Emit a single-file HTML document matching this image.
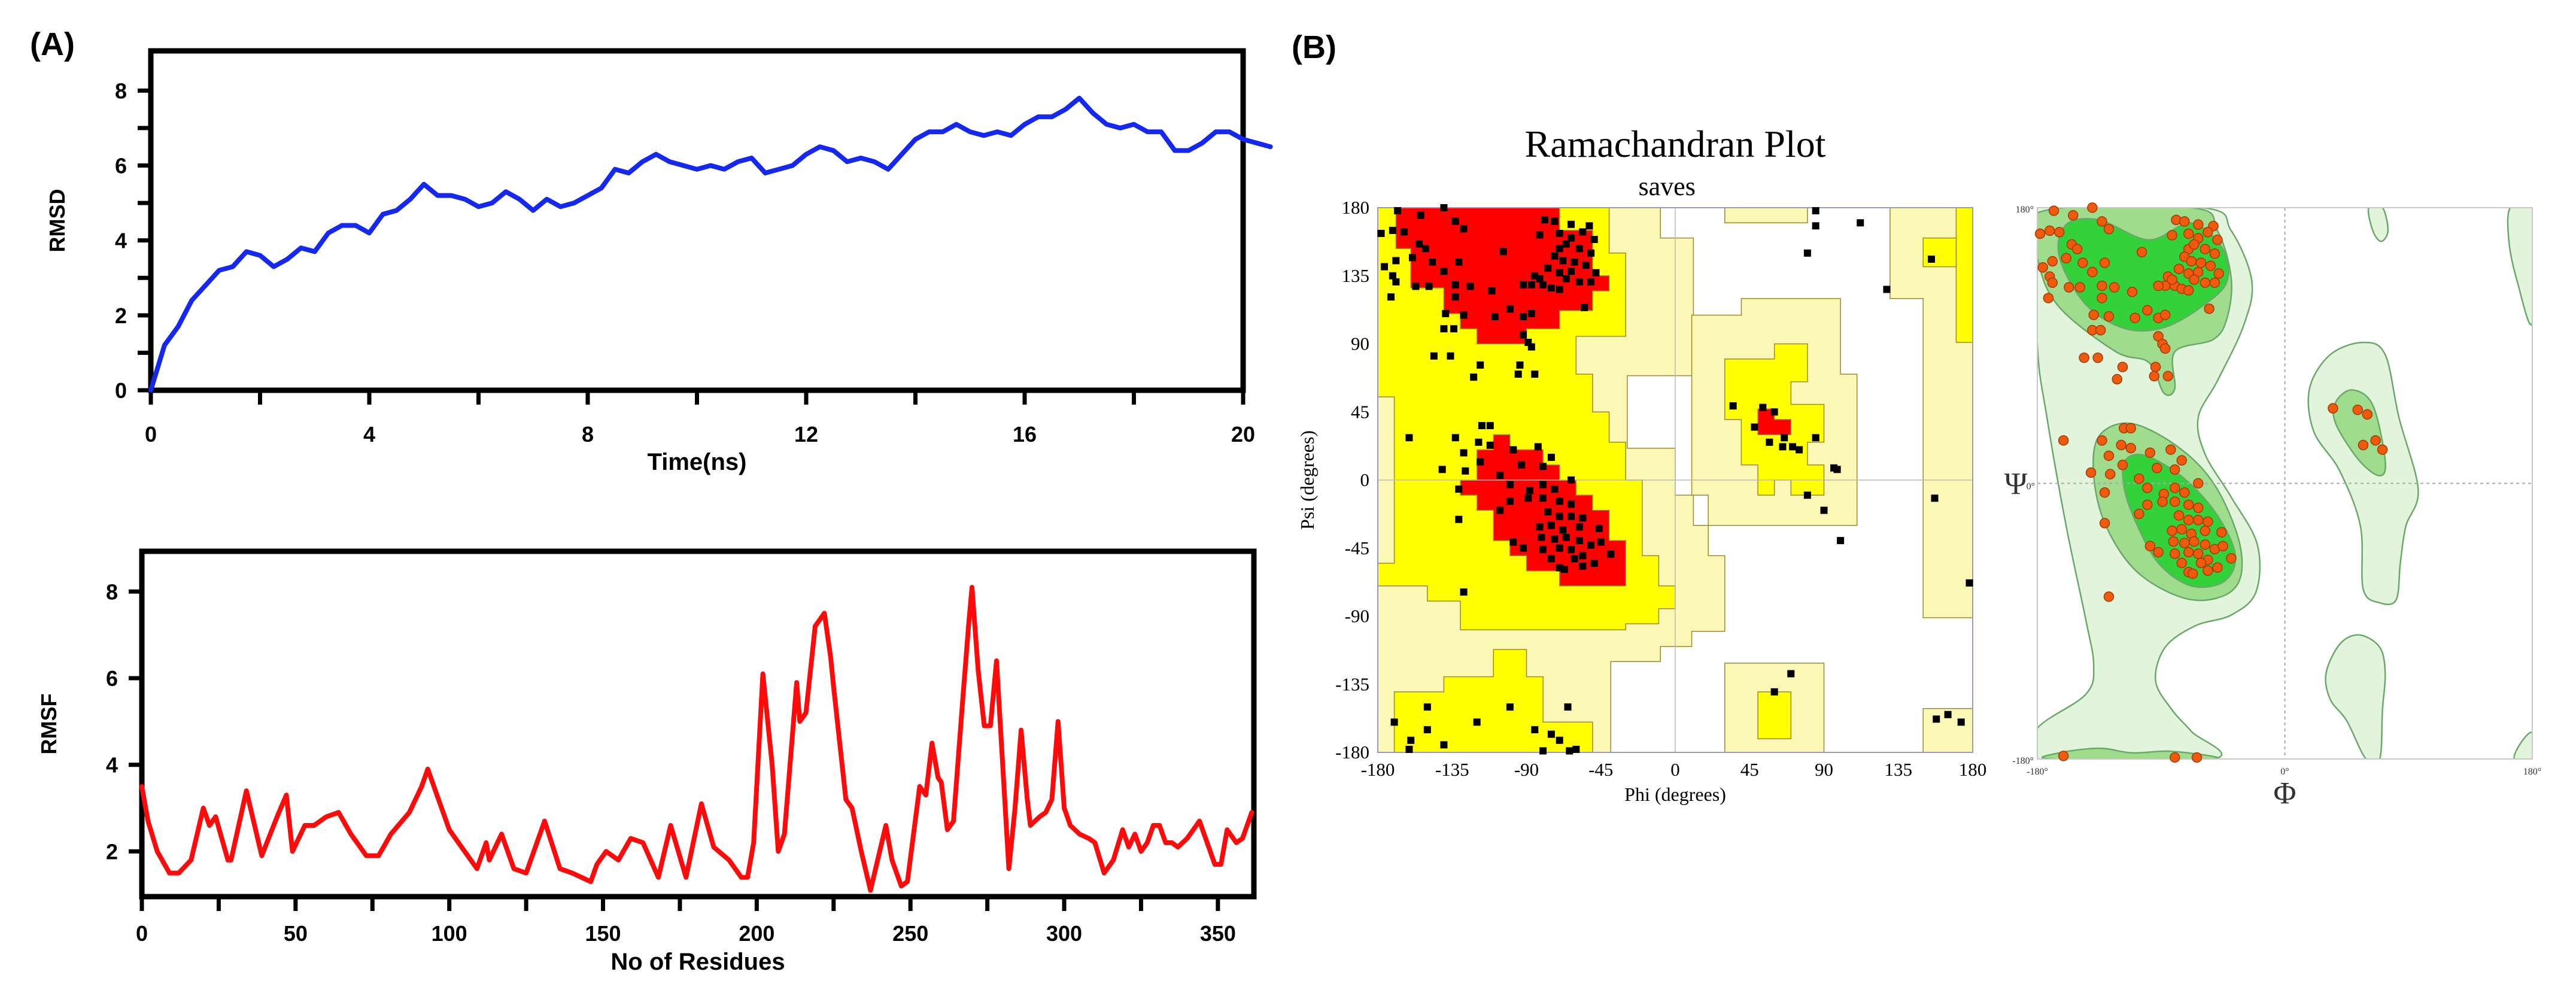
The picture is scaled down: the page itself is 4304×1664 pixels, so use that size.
<!DOCTYPE html>
<html><head><meta charset="utf-8">
<style>
html,body{margin:0;padding:0;background:#fff;}
svg{display:block;}
.sans{font-family:"Liberation Sans",Arial,sans-serif;font-weight:bold;}
.serif{font-family:"Liberation Serif","Times New Roman",serif;}
</style></head>
<body>
<svg id="fig" width="4304" height="1664" viewBox="0 0 4304 1664" xmlns="http://www.w3.org/2000/svg">
<rect x="0" y="0" width="4304" height="1664" fill="#ffffff"/>
<text x="50" y="92" class="sans" font-size="54">(A)</text>
<text x="2158" y="97" class="sans" font-size="54">(B)</text>
<g id="rmsd"></g>
<g id="rmsf"></g>
<g id="rama1"></g>
<g id="rama2"></g>
</svg>
<script>
// ---------- RMSD data ----------
const rmsdTimeStep = 0.25;
const rmsdValues = [0,1.2,1.7,2.4,2.8,3.2,3.3,3.7,3.6,3.3,3.5,3.8,3.7,4.2,4.4,4.4,4.2,4.7,4.8,5.1,5.5,5.2,5.2,5.1,4.9,5.0,5.3,5.1,4.8,5.1,4.9,5.0,5.2,5.4,5.9,5.8,6.1,6.3,6.1,6.0,5.9,6.0,5.9,6.1,6.2,5.8,5.9,6.0,6.3,6.5,6.4,6.1,6.2,6.1,5.9,6.3,6.7,6.9,6.9,7.1,6.9,6.8,6.9,6.8,7.1,7.3,7.3,7.5,7.8,7.4,7.1,7.0,7.1,6.9,6.9,6.4,6.4,6.6,6.9,6.9,6.7,6.6,6.5];
const rmsdXTicks = [0,4,8,12,16,20];
const rmsdYTicks = [0,2,4,6,8];
// ---------- RMSF data ----------
const rmsfResidues = [0,2,5,9,12,16,20,22,24,28,29,34,39,44,47,49,53,56,60,64,68,73,77,81,87,91,93,96,100,104,109,112,113,117,121,125,131,136,140,146,148,151,155,159,163,168,172,177,182,186,191,195,197,199,202,205,207,209,213,214,216,219,222,224,225,229,231,234,237,240,242,244,247,249,253,255,257,259,260,262,264,267,269,270,272,274,276,278,280,282,284,286,288,289,292,294,296,298,300,302,305,308,310,313,316,319,321,323,325,327,329,331,333,335,337,340,344,346,349,351,353,356,358,361];
const rmsfValues = [3.5,2.7,2.0,1.5,1.5,1.8,3.0,2.6,2.8,1.8,1.8,3.4,1.9,2.8,3.3,2.0,2.6,2.6,2.8,2.9,2.4,1.9,1.9,2.4,2.9,3.5,3.9,3.3,2.5,2.1,1.6,2.2,1.8,2.4,1.6,1.5,2.7,1.6,1.5,1.3,1.7,2.0,1.8,2.3,2.2,1.4,2.6,1.4,3.1,2.1,1.8,1.4,1.4,2.2,6.1,4.0,2.0,2.4,5.9,5.0,5.2,7.2,7.5,6.5,5.8,3.2,3.0,2.0,1.1,2.0,2.6,1.8,1.2,1.3,3.5,3.3,4.5,3.7,3.6,2.5,2.7,5.5,7.3,8.1,6.2,4.9,4.9,6.4,4.0,1.6,3.0,4.8,3.2,2.6,2.8,2.9,3.2,5.0,3.0,2.6,2.4,2.3,2.2,1.5,1.8,2.5,2.1,2.4,2.0,2.2,2.6,2.6,2.2,2.2,2.1,2.3,2.7,2.3,1.7,1.7,2.5,2.2,2.3,2.9];
const rmsfXTicks = [0,50,100,150,200,250,300,350];
const rmsfYTicks = [2,4,6,8];
// ---------- Ramachandran residues (phi, psi) ----------
const residuePhiPsi = [[-168,178],[-140,180],[-154,175],[-133,171],[-128,166],[-178,163],[-171,165],[-164,164],[-155,156],[-151,153],[-159,147],[-169,145],[-176,141],[-147,144],[-140,138],[-171,135],[-169,131],[-172,121],[-157,128],[-149,128],[-133,129],[-124,128],[-131,144],[-111,125],[-104,151],[-133,121],[-128,109],[-139,110],[-140,100],[-134,100],[-109,108],[-100,113],[-92,108],[-87,110],[-92,96],[-89,91],[-87,88],[-146,82],[-136,82],[-118,76],[-122,68],[-94,76],[-95,70],[-85,70],[-79,172],[-73,171],[-63,169],[-52,168],[-82,162],[-70,163],[-63,160],[-56,164],[-49,159],[-70,153],[-66,156],[-58,153],[-51,150],[-73,148],[-68,145],[-61,144],[-54,142],[-77,140],[-85,135],[-70,137],[-63,138],[-48,137],[-80,129],[-87,129],[-92,129],[-75,127],[-70,126],[-58,131],[-51,131],[-55,114],[-82,133],[-66,133],
[-117,36],[-112,36],[-133,28],[-119,25],[-112,23],[-128,18],[-118,12],[-98,20],[-83,22],[-75,15],[-141,7],[-127,6],[-106,3],[-93,10],[-80,9],[-63,0],[-131,-6],[-100,-3],[-88,-7],[-80,-3],[-73,-6],[-106,-20],[-100,-14],[-89,-12],[-80,-12],[-70,-14],[-63,-16],[-131,-26],[-77,-21],[-70,-24],[-63,-24],[-56,-25],[-82,-31],[-75,-30],[-68,-33],[-58,-31],[-46,-32],[-98,-41],[-92,-45],[-81,-38],[-73,-39],[-66,-38],[-58,-40],[-51,-43],[-45,-41],[-80,-46],[-70,-45],[-63,-46],[-56,-50],[-39,-49],[-75,-52],[-61,-52],[-49,-55],[-70,-58],[-56,-57],[-67,-59],
[-161,28],[-128,-74],[-161,-178],[-80,-179],[-64,-179],[35,49],[53,48],[60,45],[57,25],[66,28],[71,22]];
const procheckExtraPhiPsi = [[112,170],[85,168],[80,150],[85,178],[128,126],[155,146],[157,-12],[100,-40],[178,-68],[60,-140],[70,-128],[158,-158],[165,-155],[173,-160],[98,7],[96,8],[90,-20],[80,-10],[48,35],[65,22],[75,20],[85,28],[-170,-160],[-150,-165],[-120,-160],[-100,-150],[-85,-165],[-75,-168],[-60,-178],[-160,-172],[-140,-175],[-65,-150],[-70,-172],[-150,-150]];
const procheckTicks = [-180,-135,-90,-45,0,45,90,135,180];
// PROCHECK regions (phi, psi vertices)
const regionGenerous = [[[-180,180],[-9,180],[-9,160],[11,160],[11,69],[-29,69],[-29,21],[0,21],[0,-10],[11,-10],[11,-30],[20,-30],[20,-50],[30,-50],[30,-100],[10,-100],[10,-110],[-9,-110],[-9,-120],[-39,-120],[-39,-180],[-180,-180]],
 [[10,109],[40,109],[40,120],[100,120],[100,70],[110,70],[110,-30],[20,-30],[20,-10],[10,-10]],
 [[30,180],[80,180],[80,170],[30,170]],
 [[130,180],[180,180],[180,-91],[150,-91],[150,120],[130,120]],
 [[150,-151],[180,-151],[180,-180],[150,-180]],
 [[30,-121],[90,-121],[90,-180],[30,-180]]];
const regionAllowed = [[[-180,180],[-40,180],[-40,150],[-30,150],[-30,95],[-60,95],[-60,70],[-50,70],[-50,45],[-40,45],[-40,25],[-30,25],[-30,0],[-20,0],[-20,-50],[-10,-50],[-10,-70],[0,-70],[0,-85],[-10,-85],[-10,-95],[-30,-95],[-30,-99],[-130,-99],[-130,-80],[-150,-80],[-150,-70],[-180,-70],[-180,-55],[-170,-55],[-170,55],[-180,55]],
 [[-170,-180],[-170,-140],[-140,-140],[-140,-130],[-110,-130],[-110,-112],[-90,-112],[-90,-130],[-80,-130],[-80,-160],[-50,-160],[-50,-180]],
 [[30,80],[60,80],[60,90],[80,90],[80,65],[70,65],[70,50],[90,50],[90,25],[80,25],[80,10],[90,10],[90,-10],[70,-10],[70,0],[60,0],[60,-10],[50,-10],[50,10],[40,10],[40,40],[30,40]],
 [[170,180],[180,180],[180,91],[170,91]],
 [[150,160],[170,160],[170,141],[150,141]],
 [[50,-140],[70,-140],[70,-171],[50,-171]]];
const regionCore = [[[-169,180],[-70,180],[-70,165],[-50,165],[-50,135],[-40,135],[-40,125],[-50,125],[-50,112],[-70,112],[-70,100],[-90,100],[-90,90],[-120,90],[-120,100],[-130,100],[-130,110],[-140,110],[-140,127],[-160,127],[-160,153],[-169,153]],
 [[-110,30],[-100,30],[-100,20],[-80,20],[-80,10],[-70,10],[-70,0],[-60,0],[-60,-10],[-50,-10],[-50,-20],[-40,-20],[-40,-40],[-30,-40],[-30,-70],[-70,-70],[-70,-60],[-90,-60],[-90,-50],[-100,-50],[-100,-40],[-110,-40],[-110,-20],[-120,-20],[-120,-10],[-130,-10],[-130,0],[-120,0],[-120,20],[-110,20]],
 [[50,47],[60,47],[60,40],[70,40],[70,30],[50,30]]];
// contour plot regions
const contourOuter = [[[-180,180],[-60,180],[-39,165],[-24,132],[-30,103],[-49,67],[-63,43],[-58,19],[-39,-9],[-20,-40],[-21,-71],[-39,-86],[-65,-93],[-87,-107],[-94,-129],[-82,-148],[-68,-162],[-52,-180],[-180,-180],[-180,-160],[-145,-138],[-139,-119],[-145,-88],[-159,-28],[-173,43],[-180,91]],
 [[18,62],[33,84],[57,92],[73,84],[83,43],[97,-4],[88,-28],[84,-52],[81,-76],[69,-78],[57,-69],[55,-28],[40,8],[21,34]],
 [[30,-124],[40,-105],[54,-99],[69,-107],[73,-124],[71,-148],[69,-180],[59,-180],[45,-155],[33,-141]],
 [[61,180],[71,180],[75,165],[70,158],[64,165]],
 [[164,180],[180,180],[180,105],[169,132],[163,158]],
 [[167,-180],[172,-169],[180,-163],[180,-180]]];
const contourMid = [[[-179,177],[-68,180],[-49,165],[-39,134],[-42,108],[-52,94],[-80,86],[-80,62],[-88,59],[-99,79],[-123,86],[-164,115],[-179,144]],
 [[-135,31],[-111,39],[-75,22],[-49,-4],[-32,-43],[-37,-69],[-68,-76],[-106,-59],[-130,-28],[-139,5]],
 [[37,53],[49,61],[64,51],[73,15],[69,5],[54,15],[37,39]],
 [[-168,-180],[-164,-176],[-135,-173],[-111,-176],[-82,-175],[-52,-180]]];
const contourCore = [[[-159,169],[-135,172],[-99,159],[-68,170],[-45,153],[-42,132],[-58,117],[-87,102],[-116,101],[-145,117],[-164,148]],
 [[-116,15],[-101,18],[-73,3],[-49,-21],[-36,-47],[-44,-64],[-68,-67],[-92,-52],[-109,-24],[-117,-2]]];

const NS="http://www.w3.org/2000/svg";
function mk(parent,tag,attrs,txt){const e=document.createElementNS(NS,tag);for(const k in attrs)e.setAttribute(k,attrs[k]);if(txt!==undefined)e.textContent=txt;parent.appendChild(e);return e;}

// ---------- line charts ----------
function lineChart(g,cfg){
  const sx=v=>cfg.x0+(v-cfg.xmin)*(cfg.x1-cfg.x0)/(cfg.xmax-cfg.xmin);
  const sy=v=>cfg.yb-(v-cfg.ymin)*(cfg.yb-cfg.yt)/(cfg.ymax-cfg.ymin);
  const frame=mk(g,'rect',{x:cfg.x0,y:cfg.yt,width:cfg.x1-cfg.x0,height:cfg.yb-cfg.yt,fill:'none',stroke:'#000','stroke-width':9});
  
  
  cfg.xminor.forEach(v=>{const t=mk(g,'line',{x1:sx(v),x2:sx(v),y1:cfg.yb,y2:cfg.yb+24,stroke:'#000','stroke-width':7});
    
    });
  cfg.xticks.forEach(v=>{const t=mk(g,'text',{x:sx(v),y:cfg.xly,'text-anchor':'middle','font-size':cfg.fs,class:'sans'},String(v));
    
    });
  cfg.yminor.forEach(v=>{const t=mk(g,'line',{x1:cfg.x0-22,x2:cfg.x0,y1:sy(v),y2:sy(v),stroke:'#000','stroke-width':7});
    
    });
  cfg.yticks.forEach(v=>{const t=mk(g,'text',{x:cfg.x0-40,y:sy(v)+13,'text-anchor':'end','font-size':cfg.fs,class:'sans'},String(v));
    
    });
  const xt=mk(g,'text',{x:(cfg.x0+cfg.x1)/2,y:cfg.xty,'text-anchor':'middle','font-size':cfg.fs+4,class:'sans'},cfg.xtitle);
  
  
  const yt=mk(g,'text',{x:cfg.ytx,y:(cfg.yt+cfg.yb)/2,'text-anchor':'middle','font-size':cfg.fs,class:'sans',transform:`rotate(-90 ${cfg.ytx} ${(cfg.yt+cfg.yb)/2})`},cfg.ytitle);
  
  
  const pts=cfg.xs.map((x,i)=>sx(x).toFixed(1)+','+sy(cfg.ys[i]).toFixed(1)).join(' ');
  const l=mk(g,'polyline',{points:pts,fill:'none',stroke:cfg.color,'stroke-width':8,'stroke-linejoin':'round','stroke-linecap':'round'});
  
  
}
lineChart(document.getElementById('rmsd'),{x0:252,x1:2077,yt:85,yb:652,xmin:0,xmax:20,ymin:0,ymax:9.06,
  xticks:rmsdXTicks,xminor:[0,2,4,6,8,10,12,14,16,18,20],yticks:rmsdYTicks,yminor:[0,1,2,3,4,5,6,7,8],
  xly:738,xty:785,ytx:108,fs:36,xtitle:'Time(ns)',ytitle:'RMSD',
  xs:rmsdValues.map((v,i)=>i*rmsdTimeStep),ys:rmsdValues,color:'#1428f0',lineName:'rmsd-line'});
lineChart(document.getElementById('rmsf'),{x0:237,x1:2095,yt:921,yb:1498,xmin:0,xmax:361.7,ymin:0.955,ymax:8.93,
  xticks:rmsfXTicks,xminor:[0,25,50,75,100,125,150,175,200,225,250,275,300,325,350],yticks:rmsfYTicks,yminor:[2,4,6,8],
  xly:1572,xty:1620,ytx:94,fs:36,xtitle:'No of Residues',ytitle:'RMSF',
  xs:rmsfResidues,ys:rmsfValues,color:'#ff0a0a',lineName:'rmsf-line'});

// ---------- PROCHECK plot ----------
(function(){
  const g=document.getElementById('rama1');
  const L=2302,R=3296,T=347,B=1257;
  const px=p=>L+(p+180)*(R-L)/360, py=s=>T+(180-s)*(B-T)/360;
  const poly=(arr,fill,name)=>{const e=mk(g,'polygon',{points:arr.map(q=>px(q[0]).toFixed(1)+','+py(q[1]).toFixed(1)).join(' '),fill:fill,stroke:'#9a8a30','stroke-width':1.5});
    
    };
  regionGenerous.forEach(a=>poly(a,'#fbf7b4','generous-region'));
  regionAllowed.forEach(a=>poly(a,'#ffff00','allowed-region'));
  regionCore.forEach(a=>poly(a,'#ff0000','core-region'));
  mk(g,'line',{x1:px(0),x2:px(0),y1:T,y2:B,stroke:'#bbb','stroke-width':1.5});
  mk(g,'line',{x1:L,x2:R,y1:py(0),y2:py(0),stroke:'#bbb','stroke-width':1.5});
  mk(g,'rect',{x:L,y:T,width:R-L,height:B-T,fill:'none',stroke:'#9999bb','stroke-width':2});
  residuePhiPsi.concat(procheckExtraPhiPsi).forEach(q=>{const d=mk(g,'rect',{x:px(q[0])-6,y:py(q[1])-6,width:12,height:12,fill:'#000'});
    
    });
  procheckTicks.forEach(v=>{const t=mk(g,'text',{x:px(v),y:1296,'text-anchor':'middle','font-size':31,class:'serif'},String(v));
    
    
    const u=mk(g,'text',{x:L-14,y:py(v)+10,'text-anchor':'end','font-size':31,class:'serif'},String(v));
    
    });
  const t1=mk(g,'text',{x:px(0),y:262,'text-anchor':'middle','font-size':64,class:'serif'},'Ramachandran Plot');
  
  
  const t2=mk(g,'text',{x:px(-5),y:326,'text-anchor':'middle','font-size':44,class:'serif'},'saves');
  
  
  const t3=mk(g,'text',{x:px(0),y:1338,'text-anchor':'middle','font-size':32,class:'serif'},'Phi (degrees)');
  
  
  const t4=mk(g,'text',{x:2195,y:py(0),'text-anchor':'middle','font-size':32,class:'serif',transform:`rotate(-90 2195 ${py(0)})`},'Psi (degrees)');
  
  
})();

// ---------- contour plot ----------
(function(){
  const g=document.getElementById('rama2');
  const L=3404,R=4231,T=347,B=1268;
  const px=p=>L+(p+180)*(R-L)/360, py=s=>T+(180-s)*(B-T)/360;
  const smooth=(arr)=>{
    const P=arr.map(q=>[px(q[0]),py(q[1])]);const n=P.length;let d=`M${P[0][0]},${P[0][1]}`;
    for(let i=0;i<n;i++){const p0=P[(i-1+n)%n],p1=P[i],p2=P[(i+1)%n],p3=P[(i+2)%n];
      d+=` C${p1[0]+(p2[0]-p0[0])/6},${p1[1]+(p2[1]-p0[1])/6} ${p2[0]-(p3[0]-p1[0])/6},${p2[1]-(p3[1]-p1[1])/6} ${p2[0]},${p2[1]}`;}
    return d+'Z';};
  const cp=mk(g,'clipPath',{id:'c2clip'});mk(cp,'rect',{x:L,y:T,width:R-L,height:B-T});
  const inner=mk(g,'g',{'clip-path':'url(#c2clip)'});
  const shape=(arr,fill,name)=>{const e=mk(inner,'path',{d:smooth(arr),fill:fill,stroke:'#6aa86a','stroke-width':2.5});
    
    };
  contourOuter.forEach(a=>shape(a,'#e2f5dc','allowed-contour'));
  contourMid.forEach(a=>shape(a,'#9fdc8e','favoured-contour'));
  contourCore.forEach(a=>shape(a,'#33d13a','core-contour'));
  mk(g,'line',{x1:px(0),x2:px(0),y1:T,y2:B,stroke:'#aaa','stroke-width':2,'stroke-dasharray':'5,5'});
  mk(g,'line',{x1:L,x2:R,y1:py(0),y2:py(0),stroke:'#aaa','stroke-width':2,'stroke-dasharray':'5,5'});
  mk(g,'rect',{x:L,y:T,width:R-L,height:B-T,fill:'none',stroke:'#c8c8c8','stroke-width':2});
  residuePhiPsi.forEach(q=>{const d=mk(g,'circle',{cx:px(q[0]),cy:py(q[1]),r:8,fill:'#ef5a0c',stroke:'#a33a08','stroke-width':1.5});
    
    });
  const lab=(x,y,s,fs,name,anchor)=>{const t=mk(g,'text',{x:x,y:y,'text-anchor':anchor||'middle','font-size':fs,class:'serif',fill:'#333'},s);
    
    };
  lab(L-6,T+8,'180°',16,'psi-max-label','end');
  lab(L-6,B+8,'-180°',16,'psi-min-label','end');
  lab(L-4,py(0)+10,'0°',16,'psi-zero-label','end');
  lab(L,B+26,'-180°',16,'phi-min-label');
  lab(px(0),B+26,'0°',16,'phi-zero-label');
  lab(R,B+26,'180°',16,'phi-max-label');
  lab(3368,py(0)+18,'Ψ',52,'y-axis-title');
  lab(px(0),1342,'Φ',52,'x-axis-title');
})();
</script>
</body></html>
